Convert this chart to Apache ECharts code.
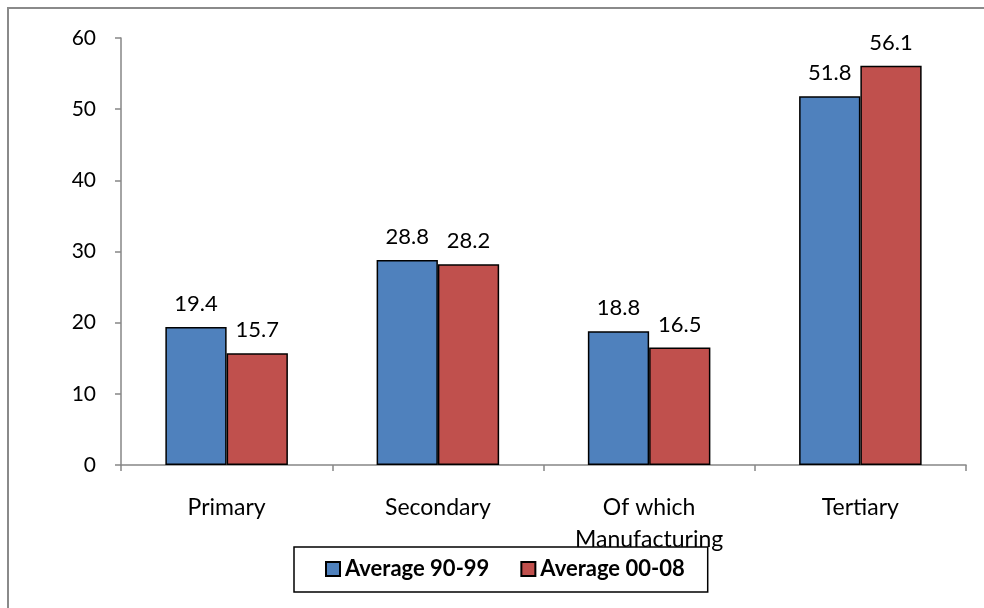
<!DOCTYPE html>
<html>
<head>
<meta charset="utf-8">
<script src="https://cdn.jsdelivr.net/npm/echarts@6/dist/echarts.min.js"></script>
<style>
  html, body { margin: 0; padding: 0; background: #fff; }
  #chart { width: 984px; height: 608px; }
</style>
</head>
<body>
<div id="chart"></div>
<script>
// Sector shares, two period averages
const categories = ['Primary', 'Secondary', 'Of which\nManufacturing', 'Tertiary'];
const avg9099 = [19.4, 28.8, 18.8, 51.8];
const avg0008 = [15.7, 28.2, 16.5, 56.1];
const seriesNames = ['Average 90-99', 'Average 00-08'];
const yTicks = { min: 0, max: 60, step: 10 };

const FONT = 'Lato, "Open Sans", sans-serif';
const AXIS_GRAY = '#868686';

const chart = echarts.init(document.getElementById('chart'), null, { renderer: 'canvas' });

const barLabel = {
  show: true,
  position: 'top',
  distance: 12,
  color: '#000',
  fontFamily: FONT,
  fontSize: 22,
  formatter: p => p.value.toFixed(1)
};

chart.setOption({
  animation: false,
  backgroundColor: '#fff',
  graphic: [{
    type: 'rect',
    shape: { x: 8, y: 8, width: 1000, height: 700 },
    style: { fill: 'none', stroke: '#8a8a8a', lineWidth: 2 },
    silent: true,
    z: -1
  }],
  grid: { left: 121, right: 18, top: 38, bottom: 143, containLabel: false },
  legend: {
    left: 294,
    top: 547,
    padding: [10, 23, 11, 31],
    itemGap: 31,
    itemWidth: 14,
    itemHeight: 14,
    borderColor: '#000',
    borderWidth: 1.5,
    borderRadius: 0,
    icon: 'rect',
    textStyle: { fontFamily: FONT, fontSize: 22, fontWeight: 'bold', color: '#000', lineHeight: 24 },
    data: seriesNames
  },
  xAxis: {
    type: 'category',
    data: categories,
    boundaryGap: true,
    axisLine: { lineStyle: { color: AXIS_GRAY, width: 1.5 } },
    axisTick: { show: true, interval: 0, length: 6, lineStyle: { color: AXIS_GRAY, width: 1.5 } },
    axisLabel: {
      interval: 0,
      margin: 27,
      color: '#000',
      fontFamily: FONT,
      fontSize: 23,
      lineHeight: 32
    }
  },
  yAxis: {
    type: 'value',
    min: yTicks.min,
    max: yTicks.max,
    interval: yTicks.step,
    splitLine: { show: false },
    axisLine: { show: true, lineStyle: { color: AXIS_GRAY, width: 1.5 } },
    axisTick: { show: true, length: 6, lineStyle: { color: AXIS_GRAY, width: 1.5 } },
    axisLabel: { margin: 25, color: '#000', fontFamily: FONT, fontSize: 21 }
  },
  series: [
    {
      name: seriesNames[0],
      type: 'bar',
      data: avg9099,
      barGap: '0%',
      barCategoryGap: '42%',
      itemStyle: { color: '#4F81BD', borderColor: '#000', borderWidth: 1.5 },
      label: barLabel
    },
    {
      name: seriesNames[1],
      type: 'bar',
      data: avg0008,
      barGap: '0%',
      barCategoryGap: '42%',
      itemStyle: { color: '#C0504D', borderColor: '#000', borderWidth: 1.5 },
      label: barLabel
    }
  ]
});
</script>
</body>
</html>
